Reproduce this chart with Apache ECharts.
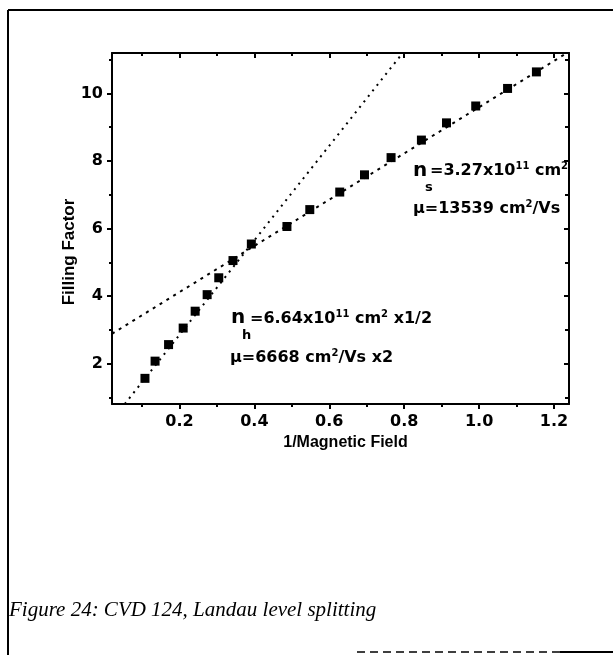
<!DOCTYPE html>
<html><head><meta charset="utf-8">
<script src="https://cdn.jsdelivr.net/npm/echarts@6/dist/echarts.min.js"></script>
<style>html,body{margin:0;padding:0;background:#fff}#chart{width:613px;height:655px}</style>
</head><body><div id="chart"></div>
<script>
// ---- data ----
const xTicksMajor = [0.2, 0.4, 0.6, 0.8, 1.0, 1.2];
const xTicksMinor = [0.1, 0.3, 0.5, 0.7, 0.9, 1.1];
const yTicksMajor = [2, 4, 6, 8, 10];
const yTicksMinor = [1, 3, 5, 7, 9, 11];

// low-field branch (steep line, n_h)
const steepX = [0.108, 0.135, 0.171, 0.210, 0.242, 0.274, 0.305, 0.343, 0.392];
const steepY = [1.56, 2.07, 2.56, 3.05, 3.55, 4.04, 4.54, 5.05, 5.54];
// high-field branch (shallow line, n_s)
const shallowX = [0.487, 0.548, 0.628, 0.694, 0.765, 0.846, 0.913, 0.991, 1.076, 1.153];
const shallowY = [6.06, 6.56, 7.08, 7.59, 8.10, 8.62, 9.13, 9.63, 10.15, 10.64];

// fitted lines (end points)
const fitSteepX = [0.054, 0.796];
const fitSteepY = [0.8, 11.2];
const fitShallowX = [0.02, 1.24];
const fitShallowY = [2.88, 11.24];

const xLabel = '1/Magnetic Field';
const yLabel = 'Filling Factor';
const caption = 'Figure 24: CVD 124, Landau level splitting';
const annS = { n: 'n', sub: 's', line1: ['=3.27x10', '11', ' cm', '2', ''], line2: ['\u03bc=13539 cm', '2', '/Vs'] };
const annH = { n: 'n', sub: 'h', line1: ['=6.64x10', '11', ' cm', '2', ' x1/2'], line2: ['\u03bc=6668 cm', '2', '/Vs x2'] };

const zip = (xs, ys) => xs.map((x, i) => [x, ys[i]]);

const tickFont = { color: '#000', fontSize: 16, fontWeight: 'bold', fontFamily: 'DejaVu Sans' };
const X_MIN = 0.02, X_MAX = 1.24, Y_MIN = 0.8, Y_MAX = 11.2;

function xAx(pos, vals, len, inside, line, labels) {
  return {
    type: 'value', position: pos, min: X_MIN, max: X_MAX, gridIndex: 0,
    axisLine: { show: line, onZero: false, lineStyle: { color: '#000', width: 2 } },
    axisTick: { show: true, inside: inside, length: len, customValues: vals, lineStyle: { color: '#000', width: 2 } },
    axisLabel: labels ? Object.assign({ show: true, customValues: vals, margin: 10, formatter: v => v.toFixed(1) }, tickFont) : { show: false },
    splitLine: { show: false }, minorTick: { show: false }
  };
}
function yAx(pos, vals, len, inside, line, labels) {
  return {
    type: 'value', position: pos, min: Y_MIN, max: Y_MAX, gridIndex: 0,
    axisLine: { show: line, onZero: false, lineStyle: { color: '#000', width: 2 } },
    axisTick: { show: true, inside: inside, length: len, customValues: vals, lineStyle: { color: '#000', width: 2 } },
    axisLabel: labels ? Object.assign({ show: true, customValues: vals, margin: 9, formatter: v => String(v) }, tickFont) : { show: false },
    splitLine: { show: false }, minorTick: { show: false }
  };
}

const xMain = xAx('bottom', xTicksMajor, 5, false, true, true);
xMain.name = xLabel;
xMain.nameLocation = 'middle';
xMain.nameGap = 24;
xMain.nameTextStyle = { color: '#000', fontSize: 16, fontWeight: 'bold', fontFamily: 'Liberation Sans', padding: [0, 0, 0, 10] };

function annotation(a, nx, ny, subx, suby, mx, my, l2x, l2y) {
  const rich = {
    m: { fontSize: 16, fontWeight: 'bold', fontFamily: 'DejaVu Sans', fill: '#000', lineHeight: 20 },
    sup: { fontSize: 10, fontWeight: 'bold', fontFamily: 'DejaVu Sans', fill: '#000', lineHeight: 12, verticalAlign: 'top' }
  };
  const seq = (parts) => parts.map((p, i) => p === '' ? '' : (i % 2 === 0 ? '{m|' + p + '}' : '{sup|' + p + '}')).join('');
  return [
    { type: 'text', x: nx, y: ny, z: 100, style: { text: a.n, fontSize: 20, fontWeight: 'bold', fontFamily: 'DejaVu Sans', fill: '#000', align: 'left', verticalAlign: 'middle' } },
    { type: 'text', x: subx, y: suby, z: 100, style: { text: a.sub, fontSize: 13, fontWeight: 'bold', fontFamily: 'DejaVu Sans', fill: '#000', align: 'left', verticalAlign: 'middle' } },
    { type: 'text', x: mx, y: my, z: 100, style: { text: seq(a.line1), rich: rich, align: 'left', verticalAlign: 'middle' } },
    { type: 'text', x: l2x, y: l2y, z: 100, style: { text: seq(a.line2), rich: rich, align: 'left', verticalAlign: 'middle' } }
  ];
}

const chart = echarts.init(document.getElementById('chart'), null, { renderer: 'canvas' });
chart.setOption({
  animation: false,
  backgroundColor: '#fff',
  grid: { left: 112, right: 44, top: 53, bottom: 251, containLabel: false },
  xAxis: [
    xMain,
    xAx('bottom', xTicksMinor, 3, false, false, false),
    xAx('top', xTicksMajor, 5, true, true, false),
    xAx('top', xTicksMinor, 3, true, false, false)
  ],
  yAxis: [
    yAx('left', yTicksMajor, 5, false, true, true),
    yAx('left', yTicksMinor, 3, false, false, false),
    yAx('right', yTicksMajor, 5, true, true, false),
    yAx('right', yTicksMinor, 4, true, false, false)
  ],
  series: [
    { type: 'line', xAxisIndex: 0, yAxisIndex: 0, data: zip(fitSteepX, fitSteepY), symbol: 'none', z: 2,
      lineStyle: { color: '#000', width: 2, type: [2, 5] } },
    { type: 'line', xAxisIndex: 0, yAxisIndex: 0, data: zip(fitShallowX, fitShallowY), symbol: 'none', z: 2,
      lineStyle: { color: '#000', width: 2, type: [3, 5] } },
    { type: 'scatter', xAxisIndex: 0, yAxisIndex: 0, data: zip(steepX, steepY), symbol: 'rect', symbolSize: 9, z: 3,
      itemStyle: { color: '#000', opacity: 1 } },
    { type: 'scatter', xAxisIndex: 0, yAxisIndex: 0, data: zip(shallowX, shallowY), symbol: 'rect', symbolSize: 9, z: 3,
      itemStyle: { color: '#000', opacity: 1 } }
  ],
  graphic: [
    // page frame
    { type: 'line', z: 50, shape: { x1: 8, y1: 10, x2: 613, y2: 10 }, style: { stroke: '#000', lineWidth: 2 } },
    { type: 'line', z: 50, shape: { x1: 8, y1: 10, x2: 8, y2: 655 }, style: { stroke: '#000', lineWidth: 2 } },
    { type: 'line', z: 50, shape: { x1: 357, y1: 652, x2: 560, y2: 652 }, style: { stroke: '#000', lineWidth: 1.5, lineDash: [8, 5] } },
    { type: 'line', z: 50, shape: { x1: 560, y1: 652, x2: 613, y2: 652 }, style: { stroke: '#000', lineWidth: 2 } },
    // y axis title
    { type: 'text', x: 69, y: 252, rotation: Math.PI / 2, z: 50,
      style: { text: yLabel, fontSize: 17, fontWeight: 'bold', fontFamily: 'Liberation Sans', fill: '#000', align: 'center', verticalAlign: 'middle' } },
    // caption
    { type: 'text', x: 9, y: 610, z: 50,
      style: { text: caption, fontSize: 21, fontStyle: 'italic', fontFamily: 'Liberation Serif', fill: '#000', align: 'left', verticalAlign: 'middle' } }
  ].concat(
    annotation(annS, 413, 171, 425, 188, 430, 171, 413, 209),
    annotation(annH, 231, 318, 242, 336, 250, 319, 230, 358)
  )
});
</script>
</body></html>
